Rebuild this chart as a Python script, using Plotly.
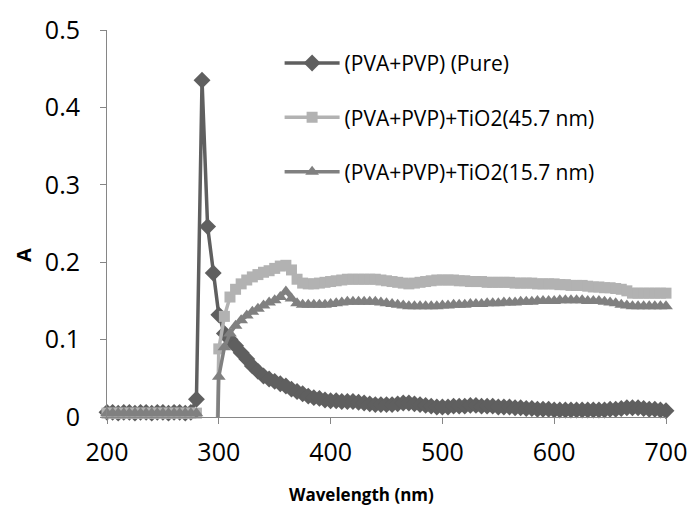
import plotly.graph_objects as go

wavelength = list(range(200, 705, 5))

pure = [0.006, 0.006, 0.005, 0.006, 0.006, 0.005, 0.006, 0.006, 0.005, 0.006, 0.006, 0.005, 0.006, 0.006, 0.005, 0.006,
        0.023, 0.435, 0.246, 0.186, 0.132, 0.108, 0.100, 0.092, 0.083, 0.075, 0.066, 0.059, 0.053, 0.049,
        0.046, 0.043, 0.040, 0.036, 0.033, 0.030, 0.027, 0.025, 0.024, 0.022,
        0.021, 0.021, 0.020, 0.020, 0.020, 0.019, 0.018, 0.017, 0.016, 0.016,
        0.016, 0.016, 0.017, 0.018, 0.018, 0.017, 0.016, 0.015, 0.014, 0.013,
        0.013, 0.013, 0.014, 0.014, 0.014, 0.015, 0.015, 0.014, 0.014, 0.014,
        0.013, 0.013, 0.013, 0.012, 0.012, 0.011, 0.011, 0.010, 0.010, 0.010,
        0.009, 0.009, 0.009, 0.009, 0.009, 0.009, 0.009, 0.009, 0.009, 0.009,
        0.010, 0.010, 0.011, 0.012, 0.012, 0.012, 0.011, 0.010, 0.010, 0.009,
        0.008]

tio2_45 = [0.005, 0.005, 0.005, 0.005, 0.005, 0.005, 0.005, 0.005, 0.005, 0.005, 0.005, 0.005, 0.005, 0.005, 0.005, 0.005, 0.005,
           -0.3, -0.3, -0.3,
           0.088, 0.130, 0.155, 0.165, 0.172, 0.177, 0.181, 0.184, 0.187, 0.189,
           0.192, 0.195, 0.196, 0.190, 0.178, 0.173, 0.172, 0.172, 0.173, 0.174,
           0.175, 0.176, 0.177, 0.178, 0.178, 0.178, 0.178, 0.178, 0.178, 0.177,
           0.176, 0.175, 0.174, 0.173, 0.172, 0.173, 0.174, 0.175, 0.176, 0.177,
           0.177, 0.177, 0.177, 0.176, 0.176, 0.175, 0.175, 0.175, 0.174, 0.174,
           0.174, 0.174, 0.174, 0.173, 0.173, 0.173, 0.173, 0.172, 0.172, 0.172,
           0.172, 0.171, 0.171, 0.170, 0.170, 0.170, 0.169, 0.168, 0.168, 0.167,
           0.167, 0.166, 0.165, 0.163, 0.160, 0.160, 0.160, 0.160, 0.160, 0.160,
           0.160]

tio2_15 = [0.005, 0.005, 0.005, 0.005, 0.005, 0.005, 0.005, 0.005, 0.005, 0.005, 0.005, 0.005, 0.005, 0.005, 0.005, 0.005, 0.005,
           -0.3, -0.3, -0.3,
           0.052, 0.090, 0.108, 0.118, 0.125, 0.131, 0.136, 0.140, 0.144, 0.148,
           0.151, 0.155, 0.162, 0.153, 0.147, 0.145, 0.145, 0.145, 0.145, 0.145,
           0.146, 0.147, 0.148, 0.149, 0.149, 0.149, 0.149, 0.149, 0.149, 0.148,
           0.147, 0.146, 0.145, 0.144, 0.143, 0.143, 0.143, 0.143, 0.143, 0.143,
           0.144, 0.144, 0.145, 0.145, 0.145, 0.146, 0.146, 0.146, 0.147, 0.147,
           0.147, 0.148, 0.148, 0.148, 0.149, 0.149, 0.149, 0.150, 0.150, 0.150,
           0.150, 0.151, 0.151, 0.151, 0.151, 0.151, 0.150, 0.150, 0.150, 0.149,
           0.148, 0.147, 0.145, 0.144, 0.143, 0.143, 0.143, 0.143, 0.143, 0.143,
           0.143]

names = ["(PVA+PVP) (Pure)", "(PVA+PVP)+TiO2(45.7 nm)", "(PVA+PVP)+TiO2(15.7 nm)"]
x_ticks = [200, 300, 400, 500, 600, 700]
y_ticks = [0, 0.1, 0.2, 0.3, 0.4, 0.5]

assert len(pure) == len(wavelength) == len(tio2_45) == len(tio2_15)

FONT = "Open Sans"
fig = go.Figure()
styles = [
    (pure, "#5f5f5f", "diamond", 13),
    (tio2_45, "#b2b2b2", "square", 11),
    (tio2_15, "#808080", "triangle-up", 12),
]
for i, (ys, col, sym, sz) in enumerate(styles):
    fig.add_trace(go.Scatter(
        x=wavelength, y=ys, name=names[i], mode="lines+markers",
        line=dict(color=col, width=3.5),
        marker=dict(symbol=sym, size=sz, color=col),
        cliponaxis=False, legendgroup=f"g{i}",
    ))

axis_col = "#868686"
pl, pt, pw, ph = 107, 27, 699 - 107 - 22, 508 - 27 - 91


def px2paper(px, py):
    return (px - pl) / pw, 1 - (py - pt) / ph


lx, ly = px2paper(283, 40)
tx, ty = px2paper(366, 495)
ax_, ay_ = px2paper(22, 254)

fig.update_layout(
    width=699, height=508,
    margin=dict(l=pl, r=22, t=pt, b=91),
    paper_bgcolor="white", plot_bgcolor="white",
    font=dict(family=FONT, color="black", size=20),
    showlegend=True,
    legend=dict(x=lx, y=ly, xanchor="left", yanchor="top",
                bgcolor="rgba(0,0,0,0)", font=dict(size=21, family=FONT),
                tracegroupgap=24, itemwidth=55),
    xaxis=dict(range=[200, 700], tickvals=x_ticks, showline=True, linecolor=axis_col,
               linewidth=1, ticks="outside", ticklen=6, tickcolor=axis_col,
               showgrid=False, zeroline=False, tickfont=dict(size=25),
               ticklabelstandoff=7),
    yaxis=dict(range=[0, 0.5], tickvals=y_ticks, showline=True, linecolor=axis_col,
               linewidth=1, ticks="outside", ticklen=6, tickcolor=axis_col,
               showgrid=False, zeroline=False, tickfont=dict(size=25),
               ticklabelstandoff=15),
    annotations=[
        dict(text="<b>Wavelength (nm)</b>", x=tx, y=ty, xref="paper", yref="paper",
             xanchor="center", yanchor="middle",
             showarrow=False, font=dict(size=17)),
        dict(text="<b>A</b>", x=ax_, y=ay_, xref="paper", yref="paper",
             xanchor="center", yanchor="middle",
             showarrow=False, textangle=-90, font=dict(size=20)),
    ],
)

fig.write_html("out.html")
